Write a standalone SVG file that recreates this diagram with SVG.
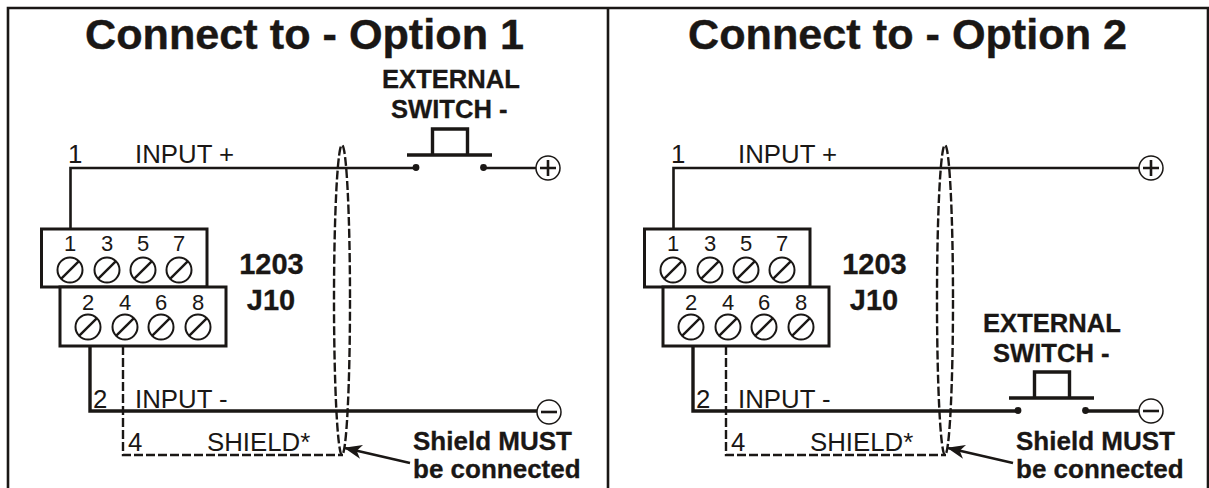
<svg xmlns="http://www.w3.org/2000/svg" xmlns:xlink="http://www.w3.org/1999/xlink" width="1209" height="488" viewBox="0 0 1209 488">
<style>
text{font-family:"Liberation Sans",Arial,sans-serif;fill:#1a1715}
.h{font-size:43.2px;font-weight:bold;stroke:#1a1715;stroke-width:.4}
.b{font-size:25.6px;font-weight:bold;stroke:#1a1715;stroke-width:.3}
.m{font-size:26px;font-weight:bold;stroke:#1a1715;stroke-width:.3}
.j{font-size:29px;font-weight:bold;text-anchor:middle;stroke:#1a1715;stroke-width:.3}
.r{font-size:25.8px}
.n{font-size:22px;text-anchor:middle}
.w{fill:none;stroke:#1a1715;stroke-width:2.6}
.t{fill:none;stroke:#1a1715;stroke-width:3.4}
.d{fill:none;stroke:#1a1715;stroke-width:2.4;stroke-dasharray:9 3}
.box{fill:#fff;stroke:#1a1715;stroke-width:3}
.s{fill:#fff;stroke:#1a1715;stroke-width:2}
.g{fill:#fff;stroke:#1a1715;stroke-width:1.5}
.x{fill:none;stroke:#1a1715;stroke-width:2.4}
</style>
<defs>
<g id="screw"><circle class="s" r="12.5"/><line class="x" x1="-9.2" y1="9.2" x2="9.2" y2="-9.2"/></g>
<g id="block">
<rect class="box" x="41.5" y="229" width="165.5" height="58"/>
<rect class="box" x="60" y="287" width="166" height="59"/>
<text class="n" x="70" y="251">1</text><text class="n" x="107" y="251">3</text><text class="n" x="143" y="251">5</text><text class="n" x="179" y="251">7</text>
<text class="n" x="88" y="310">2</text><text class="n" x="125" y="310">4</text><text class="n" x="161" y="310">6</text><text class="n" x="198" y="310">8</text>
<use xlink:href="#screw" x="70" y="270"/><use xlink:href="#screw" x="107" y="270"/><use xlink:href="#screw" x="143" y="270"/><use xlink:href="#screw" x="179" y="270"/>
<use xlink:href="#screw" x="88" y="327"/><use xlink:href="#screw" x="125" y="327"/><use xlink:href="#screw" x="161" y="327"/><use xlink:href="#screw" x="198" y="327"/>
</g>
<g id="switch">
<path class="t" d="M0 0H85M25.5 0V-26H60.5V0"/>
<circle cx="9" cy="12.5" r="3.4" fill="#1a1715"/><circle cx="76.5" cy="12.5" r="3.4" fill="#1a1715"/>
</g>
<marker id="ah" viewBox="0 0 18 14" refX="17" refY="7" markerWidth="18" markerHeight="14" markerUnits="userSpaceOnUse" orient="auto"><path d="M18 7L0 0L5 7L0 14Z" fill="#1a1715"/></marker>
</defs>

<g id="frame"><path fill="none" stroke="#1a1715" stroke-width="2.6" d="M8 488V8H1208V488M608 8V488"/></g>

<g id="connectors">
<path class="w" d="M70.5 229V168H416"/>
<path class="w" d="M483 168H536"/>
<path class="t" d="M90 346V411H537"/>
<path class="d" d="M123 346V455H343"/>
<ellipse class="d" cx="342" cy="300" rx="8" ry="155"/>
<path class="w" marker-end="url(#ah)" d="M410 463L345 448"/>
<path class="w" d="M673.5 229V168H1139"/>
<path class="t" d="M693 346V411H1018"/>
<path class="t" d="M1086 411H1139"/>
<path class="d" d="M726 346V455H946"/>
<ellipse class="d" cx="945" cy="300" rx="8" ry="155"/>
<path class="w" marker-end="url(#ah)" d="M1013 463L948 448"/>
</g>

<g id="option1">
<text class="h" x="85" y="49">Connect to - Option 1</text>
<text class="b" x="382" y="88">EXTERNAL</text>
<text class="b" x="391" y="118">SWITCH -</text>
<text class="r" x="68" y="163">1</text>
<text class="r" x="135" y="163">INPUT +</text>
<text class="r" x="93" y="408">2</text>
<text class="r" x="135" y="408">INPUT -</text>
<text class="r" x="128" y="451">4</text>
<text class="r" x="207" y="451">SHIELD*</text>
<text class="m" x="413" y="450">Shield MUST</text>
<text class="m" x="413" y="478">be connected</text>
</g>
<g id="terminal1"><use xlink:href="#block"/><text class="j" x="271.5" y="274">1203</text><text class="j" x="271" y="310">J10</text></g>
<g id="switch1"><use xlink:href="#switch" x="407" y="155"/></g>
<g id="plus1"><circle class="g" cx="548" cy="168" r="12"/><path class="w" d="M540 168H556M548 160V176"/></g>
<g id="minus1"><circle class="g" cx="549" cy="412" r="12"/><path class="w" d="M541 412H557"/></g>

<g id="option2">
<text class="h" x="688" y="49">Connect to - Option 2</text>
<text class="b" x="983" y="332">EXTERNAL</text>
<text class="b" x="993" y="362">SWITCH -</text>
<text class="r" x="671" y="163">1</text>
<text class="r" x="738" y="163">INPUT +</text>
<text class="r" x="696" y="408">2</text>
<text class="r" x="738" y="408">INPUT -</text>
<text class="r" x="731" y="451">4</text>
<text class="r" x="810" y="451">SHIELD*</text>
<text class="m" x="1016" y="450">Shield MUST</text>
<text class="m" x="1016" y="478">be connected</text>
</g>
<g id="terminal2"><use xlink:href="#block" x="603"/><text class="j" x="874.5" y="274">1203</text><text class="j" x="874" y="310">J10</text></g>
<g id="switch2"><use xlink:href="#switch" x="1009" y="398"/></g>
<g id="plus2"><circle class="g" cx="1151" cy="168" r="12"/><path class="w" d="M1143 168H1159M1151 160V176"/></g>
<g id="minus2"><circle class="g" cx="1151" cy="411" r="12"/><path class="w" d="M1143 411H1159"/></g>
</svg>
